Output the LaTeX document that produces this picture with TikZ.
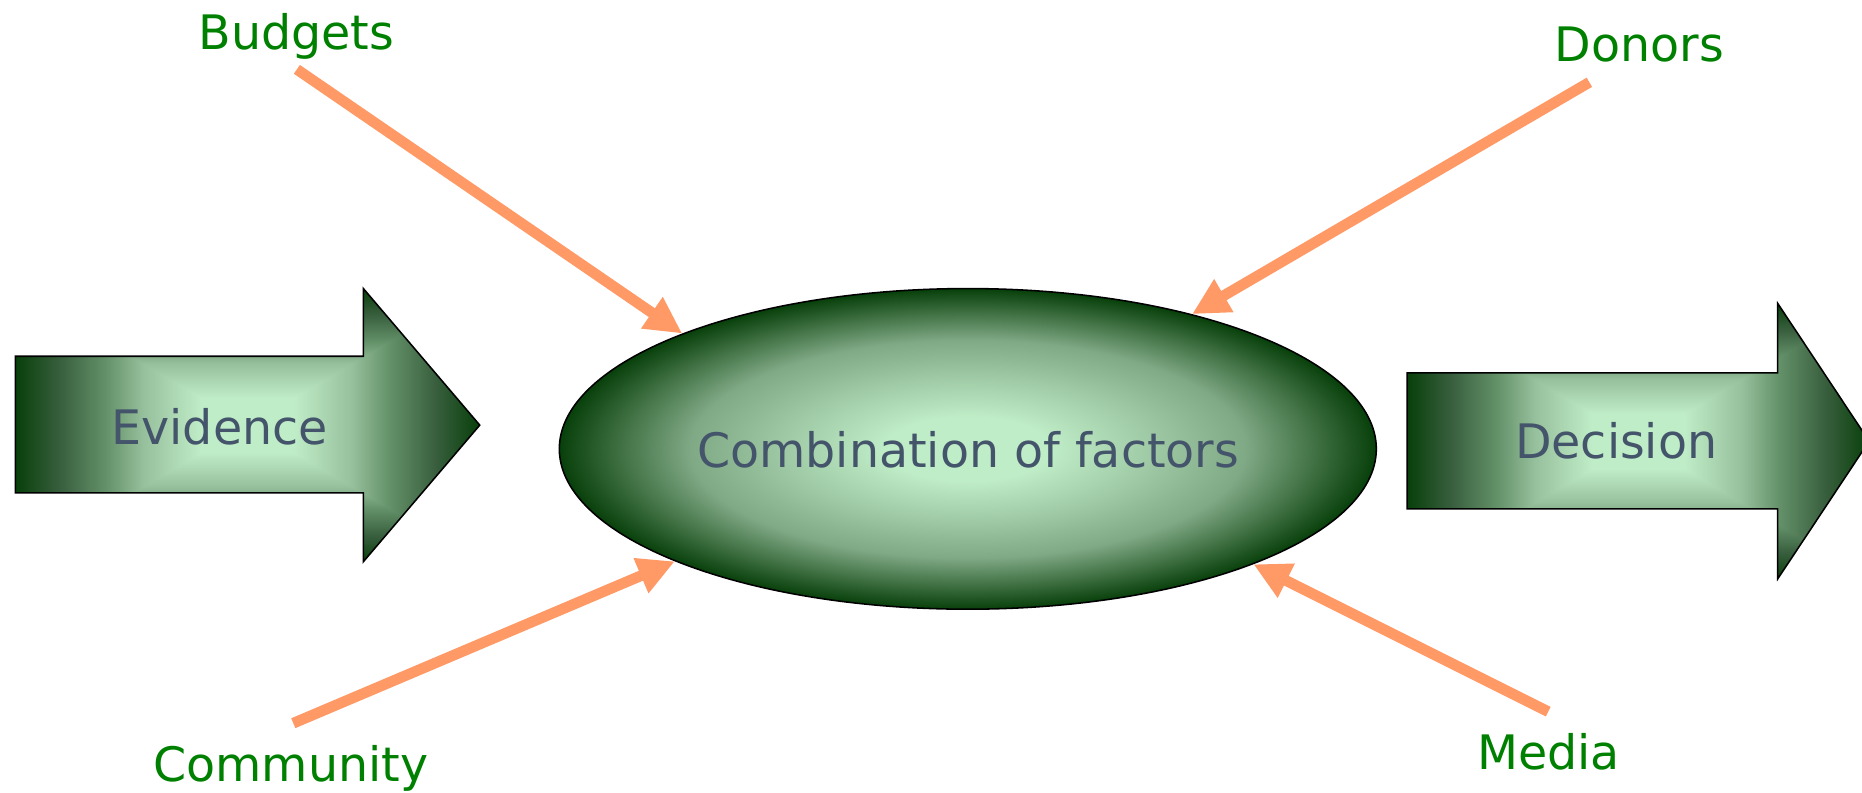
\documentclass[tikz,border=0pt]{standalone}
\usepackage{fontspec}
\setmainfont{DejaVu Sans}
\usetikzlibrary{shapes.geometric,arrows.meta}
\definecolor{lg}{rgb}{0.75,0.93,0.78}
\definecolor{dg}{rgb}{0.03,0.25,0.04}
\definecolor{midg}{rgb}{0.50,0.66,0.52}
\definecolor{ca}{rgb}{0.59,0.75,0.61}
\definecolor{cb}{rgb}{0.39,0.57,0.41}
\definecolor{cc}{rgb}{0.22,0.37,0.24}
\definecolor{lblgreen}{RGB}{0,128,0}
\definecolor{slate}{RGB}{68,84,106}
\definecolor{salmon}{RGB}{255,153,102}

\pgfdeclareradialshading{ellglow}{\pgfpoint{0bp}{0bp}}{color(0bp)=(lg); color(5bp)=(lg); color(17bp)=(midg); color(25bp)=(dg); color(50bp)=(dg)}
% horizontal: dark - light - dark across the whole shape
\pgfdeclarehorizontalshading{hglow}{100bp}{color(0bp)=(dg); color(25bp)=(dg); color(29.75bp)=(cc); color(34.75bp)=(cb); color(38.75bp)=(ca); color(45bp)=(lg); color(55bp)=(lg); color(61.25bp)=(ca); color(65.25bp)=(cb); color(70.25bp)=(cc); color(75bp)=(dg); color(100bp)=(dg)}
% top triangle: light at bottom (centre), dark at top
\pgfdeclareverticalshading{vglowT}{100bp}{color(0bp)=(lg); color(35bp)=(lg); color(47.5bp)=(ca); color(55.5bp)=(cb); color(65.5bp)=(cc); color(75bp)=(dg); color(100bp)=(dg)}
% bottom triangle: dark at bottom, light at top (centre)
\pgfdeclareverticalshading{vglowB}{100bp}{color(0bp)=(dg); color(25bp)=(dg); color(34.5bp)=(cc); color(44.5bp)=(cb); color(52.5bp)=(ca); color(65bp)=(lg); color(100bp)=(lg)}

\begin{document}
\begin{tikzpicture}[x=1pt,y=-1pt,
  lbl/.style={font=\fontsize{40}{48}\selectfont, text=lblgreen, inner sep=0pt, anchor=base},
  inlbl/.style={font=\fontsize{40}{48}\selectfont, text=slate, inner sep=0pt, anchor=base},
  conn/.style={draw=salmon, line width=9pt, -{Triangle[length=31pt,width=30pt]}},
  blockarrow/.style={draw=black, line width=1.3pt,
    path picture={
      \shade[shading=hglow] (path picture bounding box.south west) rectangle (path picture bounding box.north east);
      \shade[shading=vglowT] (path picture bounding box.north west) -- (path picture bounding box.north east) -- (path picture bounding box.center) -- cycle;
      \shade[shading=vglowB] (path picture bounding box.south west) -- (path picture bounding box.south east) -- (path picture bounding box.center) -- cycle;
    }},
]
\useasboundingbox (0,0) rectangle (1568,667);

% block arrows
\path[blockarrow] (13,300) -- (306,300) -- (306,243) -- (404,358) -- (306,473) -- (306,415) -- (13,415) -- cycle;
\path[blockarrow] (1185,314) -- (1497,314) -- (1497,255.5) -- (1574,371.5) -- (1497,487.5) -- (1497,428.6) -- (1185,428.6) -- cycle;

% central ellipse
\node[ellipse, draw=black, line width=1.3pt, shade, shading=ellglow,
      minimum width=688pt, minimum height=270pt, inner sep=0pt] (comb) at (815,378) {};

% texts
\node[inlbl] (evid) at (185,374) {Evidence};
\node[inlbl] (dec) at (1361,386.5) {Decision};
\node[inlbl] (combtxt) at (815.3,394) {Combination of factors};

\node[lbl] (budgets) at (249.6,42) {Budgets};
\node[lbl] (donors) at (1380.5,52) {Donors};
\node[lbl] (community) at (245,658.5) {Community};
\node[lbl] (media) at (1304,648.4) {Media};

% connector tails
\coordinate (budtail) at (250,58.4);
\coordinate (dontail) at (1338.4,69.3);
\coordinate (comtail) at (247,609);
\coordinate (medtail) at (1303.7,599.3);

\draw[conn] (budtail) -- (comb.158.4);
\draw[conn] (dontail) -- (comb.31.7);
\draw[conn] (comtail) -- (comb.201.4);
\draw[conn] (medtail) -- (comb.338.5);
\end{tikzpicture}
\end{document}
